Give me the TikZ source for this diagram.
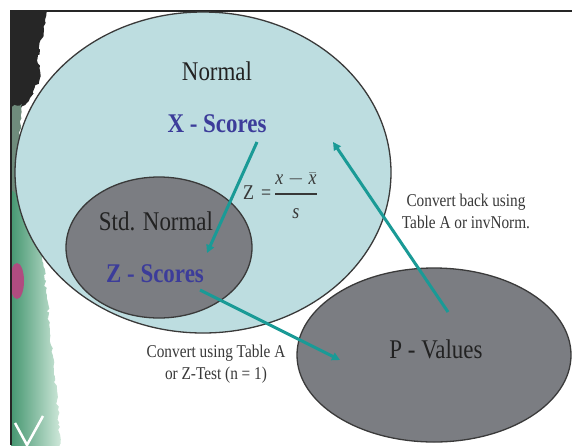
\documentclass[tikz,border=0pt]{standalone}
\usepackage{fontspec}
\setmainfont{Liberation Serif}[FakeStretch=0.85]
\usetikzlibrary{shapes.geometric,arrows.meta,decorations.pathmorphing}

\definecolor{skyfill}{HTML}{BDDDE0}
\definecolor{slatefill}{HTML}{7B7D82}
\definecolor{rimline}{HTML}{3A3A3A}
\definecolor{linkteal}{HTML}{1A9A96}
\definecolor{scoreblue}{HTML}{3C3C9A}
\definecolor{inkgray}{HTML}{222222}
\definecolor{notegray}{HTML}{383838}
\definecolor{leafdark}{HTML}{3A9068}
\definecolor{leaflight}{HTML}{CFE8DA}
\definecolor{mossgray}{HTML}{6F8C7C}
\definecolor{blossom}{HTML}{B04C80}

\tikzset{
  setshape/.style={ellipse, draw=rimline, line width=1.3pt, inner sep=0pt},
  biglabel/.style={font=\fontsize{27}{30}\selectfont, text=inkgray, inner sep=0pt, anchor=base},
  scorelabel/.style={font=\fontsize{27}{30}\selectfont\bfseries, text=scoreblue, inner sep=0pt, anchor=base},
  note/.style={font=\fontsize{18}{21.5}\selectfont, text=notegray, align=center, inner sep=0pt, anchor=base},
  link/.style={draw=linkteal, line width=3pt, -{Triangle[length=8pt,width=8pt]}},
  rough/.style={decorate, decoration={random steps, segment length=3pt, amplitude=1.5pt}},
}

\begin{document}
\begin{tikzpicture}[x=1pt,y=-1pt]
\path[use as bounding box, fill=white] (0,0) rectangle (572,445);

% photographic strip along the left edge
\begin{scope}
  \clip (11,11) rectangle (572,445);
  \fill[black!85, rough] (8,8) -- (48,9) -- (44,30) -- (38,55) -- (40,78) -- (30,98) -- (20,110) -- (8,114) -- cycle;
  \fill[mossgray, rough] (8,108) -- (22,104) -- (20,140) -- (24,170) -- (28,196) -- (8,196) -- cycle;
  \shade[left color=leafdark, right color=leaflight, rough] (8,190) -- (26,198) -- (32,225) -- (42,255) -- (46,290) -- (50,330) -- (54,370) -- (58,410) -- (60,448) -- (8,448) -- cycle;
  \fill[blossom] (17,281) ellipse [x radius=7pt, y radius=18pt];
  \draw[white, line width=2.5pt] (15,423) -- (27,445) -- (43,416);
\end{scope}

% frame
\draw[line width=2pt, black!85] (11,445) -- (11,11) -- (572,11);

% distributions
\node[setshape, fill=skyfill, minimum width=376pt, minimum height=321pt] (normal) at (203,172.5) {};
\node[setshape, fill=slatefill, minimum width=186pt, minimum height=141pt] (stdnormal) at (159,247.5) {};
\node[setshape, fill=slatefill, minimum width=274pt, minimum height=174pt] (pvalues) at (434,355) {};

% labels
\node[biglabel] (normaltxt) at (217,80) {Normal};
\node[scorelabel] (xscores) at (217,132) {X - Scores};
\node[biglabel] (stdtxt) at (156,230) {Std. Normal};
\node[scorelabel] (zscores) at (155,282) {Z - Scores};
\node[biglabel] (ptxt) at (436,358) {P - Values};

\node[anchor=base west, inner sep=0pt, text=notegray, font=\fontsize{21}{24}\selectfont] (zformula) at (243,199)
  {Z\hspace{7pt}=\hspace{3pt}$\displaystyle{\mbox{\itshape x}-\bar{\mbox{\itshape x}}\above 1.6pt\raisebox{-5pt}{\itshape s}}$};

\node[note] (backnote) at (466,228) {Convert back using\\Table A or invNorm.};
\node[note] (fwdnote) at (216,379) {Convert using Table A\\or Z-Test (n = 1)};

% connector end points
\coordinate (xout) at (257,142);
\coordinate (zin) at (207,253);
\coordinate (zout) at (200,290);
\coordinate (pin) at (340,360);
\coordinate (pout) at (448,312);
\coordinate (nin) at (333,142);

% conversions
\draw[link] (xout) -- (zin);
\draw[link] (zout) -- (pin);
\draw[link] (pout) -- (nin);
\end{tikzpicture}
\end{document}
